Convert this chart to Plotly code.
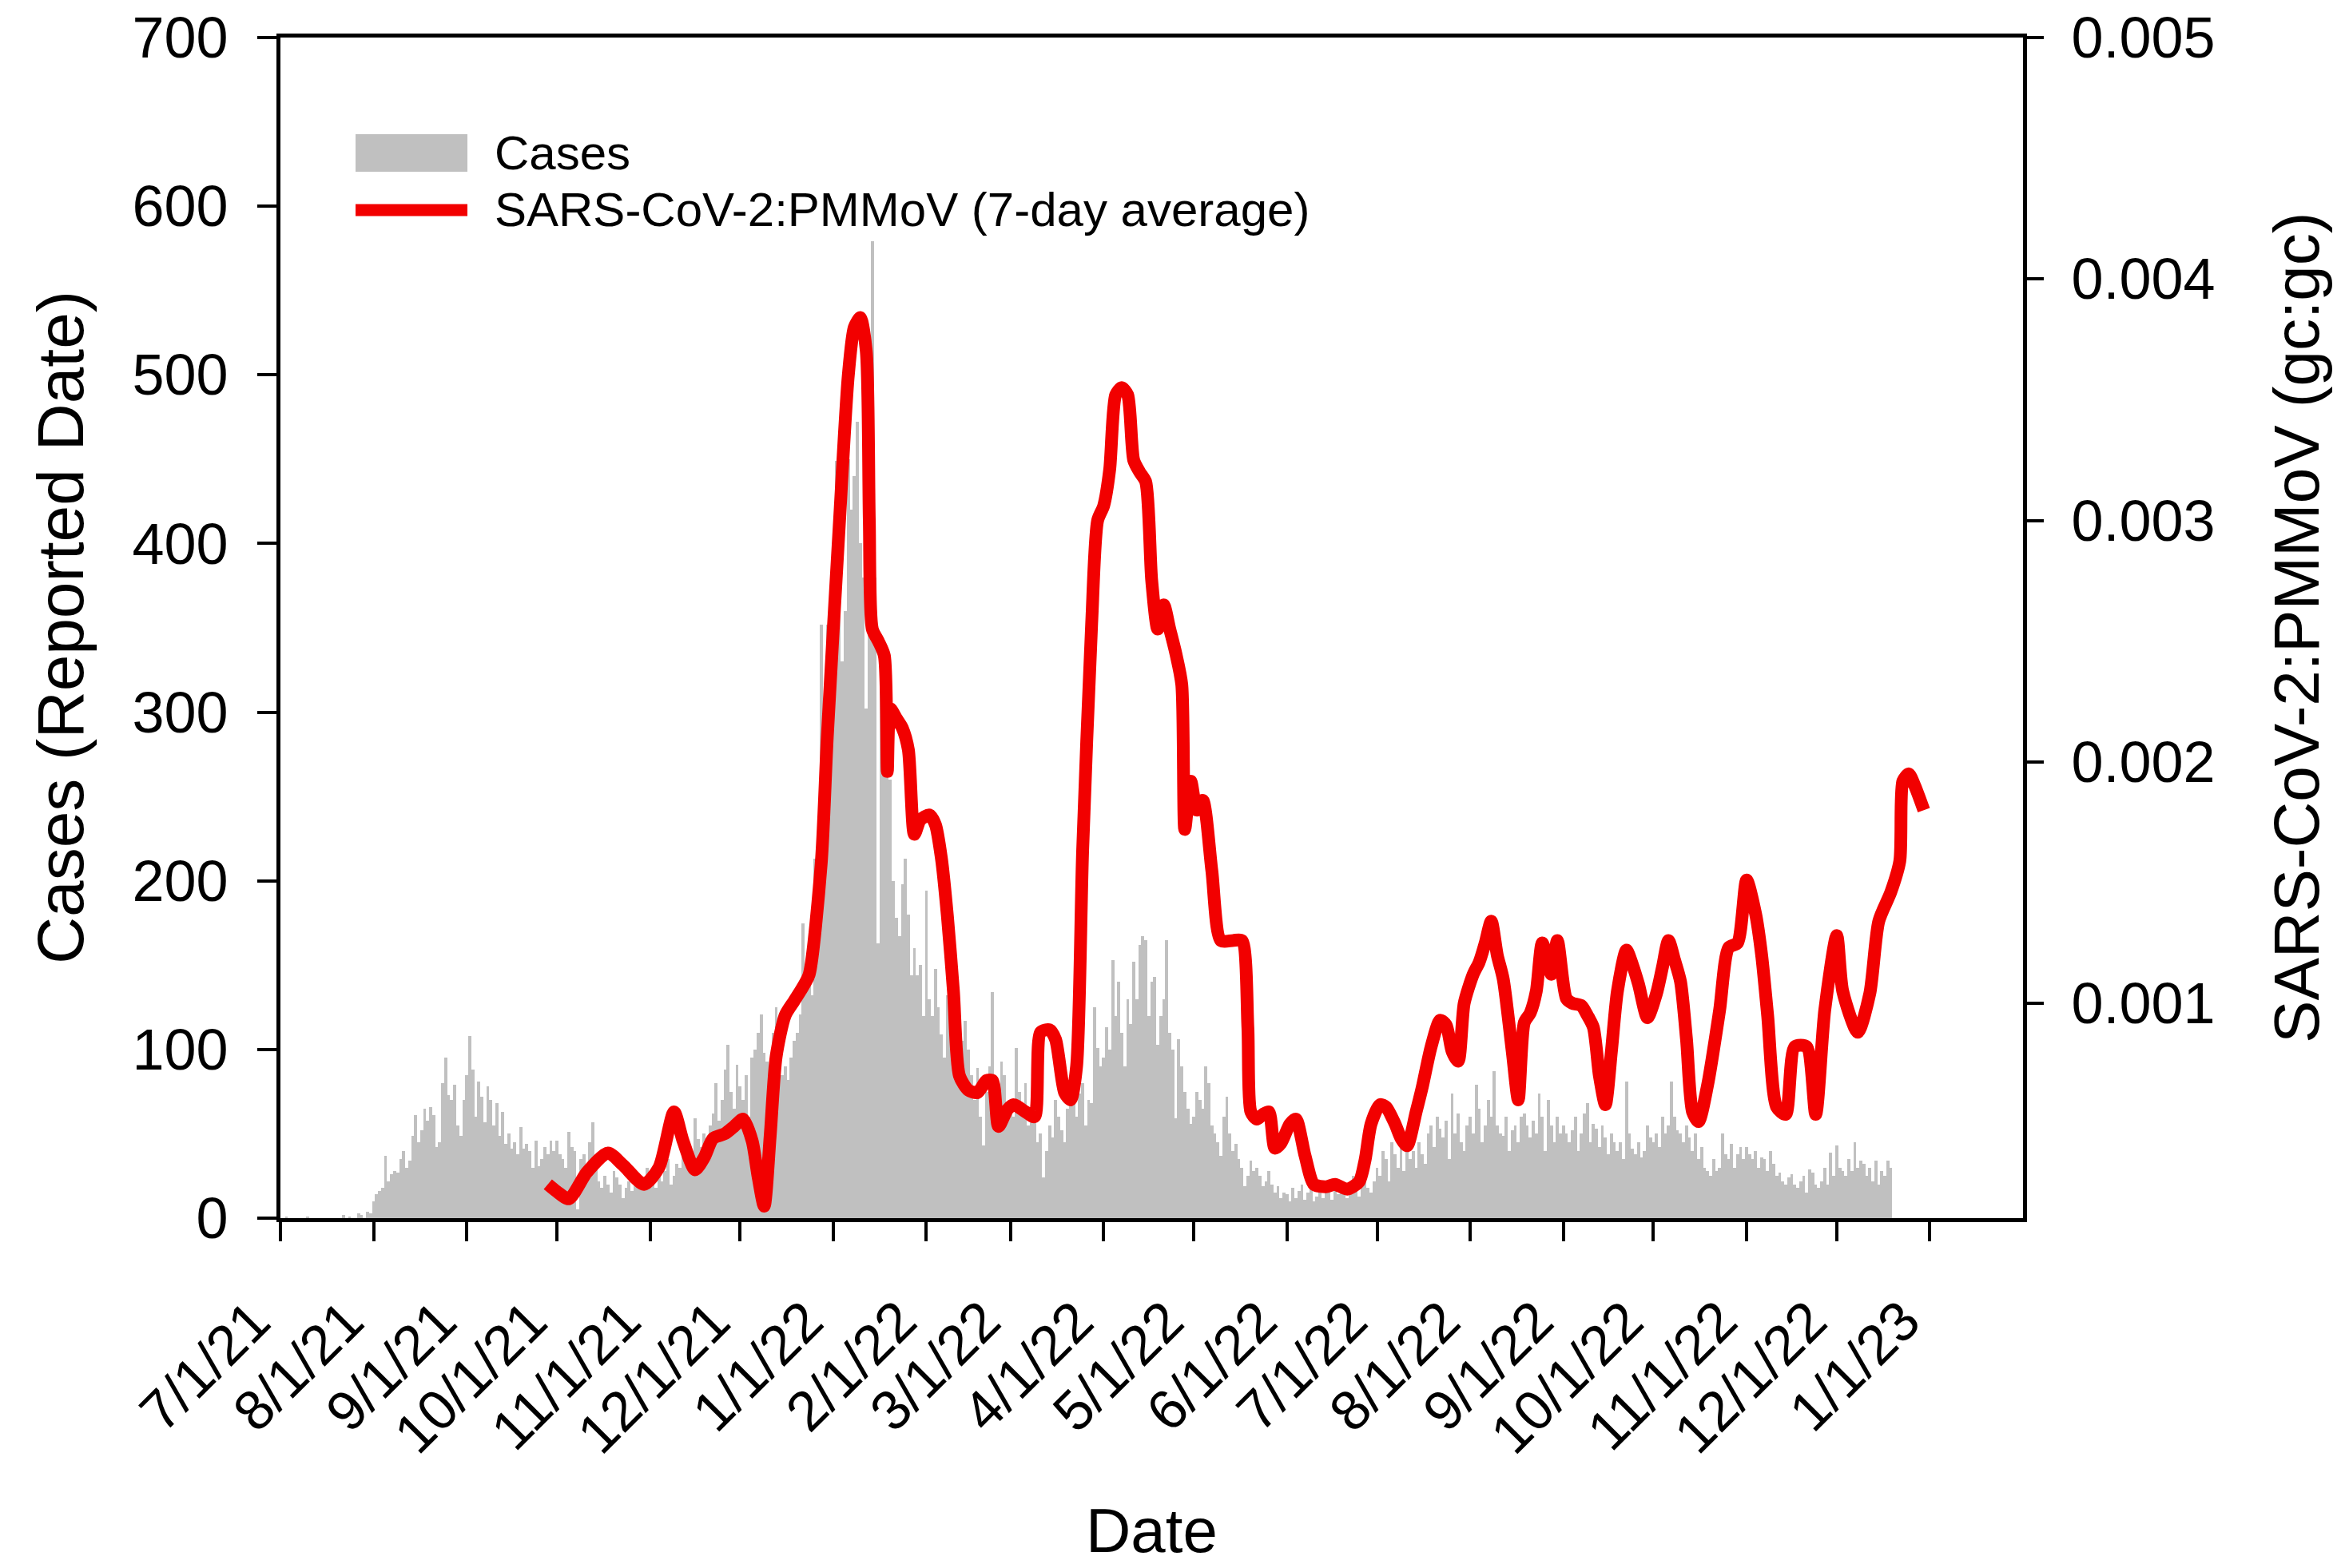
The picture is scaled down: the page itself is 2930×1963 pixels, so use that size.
import pandas as pd
import plotly.graph_objects as go

# ---------------- data ----------------
cases_2021_07 = [0,0,1,0,0,0,0,0,0,1,0,0,0,0,0,0,0,0,0,0,0,2,0,1,0,0,3,2,0,4,3]
cases_2021_08 = [10,14,16,18,37,22,26,28,27,35,40,30,34,49,61,45,52,65,58,66,61,42,45,80,95,73,70,79,55,49,70]
cases_2021_09 = [85,108,88,60,81,72,57,78,70,55,68,49,63,44,50,41,45,38,54,41,44,40,30,46,31,35,42,38,46,40]
cases_2021_10 = [46,38,35,30,51,42,40,5,35,38,30,45,57,30,22,18,25,20,15,28,24,20,12,18,22,16,20,25,18,22,30]
cases_2021_11 = [25,21,18,30,22,28,35,20,25,32,30,38,40,28,35,59,47,42,50,38,55,62,80,58,70,88,103,75,65,91]
cases_2021_12 = [78,70,85,60,95,100,110,121,98,93,88,110,125,100,85,90,82,95,105,110,121,175,150,140,132,213,180,352,300,352,360]
cases_2022_01 = [400,449,418,330,360,450,420,440,472,400,380,302,450,579,380,163,333,300,275,260,200,178,167,198,213,180,144,160,144,150,120]
cases_2022_02 = [194,130,120,148,125,109,95,132,120,101,110,90,105,117,100,85,70,89,60,43,75,90,134,80,70,93,85,65]
cases_2022_03 = [70,60,101,75,65,80,55,60,62,45,50,24,40,55,48,70,60,52,45,65,82,78,60,74,80,55,70,68,125,101,90]
cases_2022_04 = [95,113,100,153,120,140,110,90,130,115,152,130,162,167,165,120,140,143,103,120,130,165,110,100,59,106,90,75,65,56]
cases_2022_05 = [60,75,70,65,90,80,55,50,45,37,60,72,50,40,44,35,30,19,25,34,28,30,25,19,22,28,20,15,19,12,15]
cases_2022_06 = [14,10,18,12,16,20,11,15,19,10,13,17,12,20,15,11,18,14,22,16,12,19,25,17,13,20,24,18,15,22]
cases_2022_07 = [30,25,40,35,22,45,38,30,50,28,45,35,40,30,45,38,32,50,55,42,60,53,48,58,35,74,50,62,45,40,55]
cases_2022_08 = [60,50,79,65,45,55,70,60,87,55,50,49,60,40,52,55,45,60,62,55,48,58,50,74,60,40,70,55,45,60,50]
cases_2022_09 = [55,50,45,52,60,40,50,62,68,45,56,53,42,55,48,38,50,45,40,45,35,81,50,41,38,45,36,40,55,48]
cases_2022_10 = [45,50,42,60,50,55,81,60,52,50,45,55,48,40,50,35,42,30,28,25,35,28,30,50,38,35,44,30,38,42,35]
cases_2022_11 = [42,38,35,40,30,36,35,28,40,32,25,27,22,20,24,26,20,18,22,25,15,29,27,20,18,22,30,20,39,25]
cases_2022_12 = [43,30,28,25,35,28,45,30,34,32,25,30,22,34,20,28,25,34,30]

cases_first_day = "2021-07-01"

ratio_dates = [
    "2021-09-28","2021-10-01","2021-10-05","2021-10-11","2021-10-18","2021-10-23","2021-10-30",
    "2021-11-04","2021-11-09","2021-11-12","2021-11-16","2021-11-19","2021-11-22","2021-11-26","2021-11-29",
    "2021-12-02","2021-12-05","2021-12-07","2021-12-09","2021-12-11","2021-12-13","2021-12-16","2021-12-19",
    "2021-12-22","2021-12-24","2021-12-28","2021-12-30",
    "2022-01-03","2022-01-06","2022-01-08","2022-01-10","2022-01-12","2022-01-13","2022-01-14","2022-01-16",
    "2022-01-18","2022-01-19","2022-01-20","2022-01-22","2022-01-24","2022-01-26","2022-01-28","2022-01-30",
    "2022-02-02","2022-02-04","2022-02-06","2022-02-08","2022-02-10","2022-02-12","2022-02-15","2022-02-18",
    "2022-02-21","2022-02-23","2022-02-25","2022-02-28",
    "2022-03-02","2022-03-06","2022-03-09","2022-03-11","2022-03-14","2022-03-16","2022-03-19","2022-03-21",
    "2022-03-23","2022-03-25","2022-03-28","2022-03-30",
    "2022-04-01","2022-04-03","2022-04-05","2022-04-07","2022-04-09","2022-04-11","2022-04-13","2022-04-15",
    "2022-04-17","2022-04-19","2022-04-21","2022-04-23","2022-04-25","2022-04-27","2022-04-28","2022-04-30",
    "2022-05-02","2022-05-04","2022-05-07","2022-05-10","2022-05-14","2022-05-17","2022-05-19","2022-05-20",
    "2022-05-22","2022-05-24","2022-05-26","2022-05-28","2022-05-30",
    "2022-06-02","2022-06-04","2022-06-07","2022-06-10","2022-06-14","2022-06-17","2022-06-21","2022-06-25",
    "2022-06-27","2022-06-29",
    "2022-07-02","2022-07-04","2022-07-07","2022-07-09","2022-07-11","2022-07-14","2022-07-16","2022-07-19",
    "2022-07-22","2022-07-24","2022-07-26","2022-07-28","2022-07-30",
    "2022-08-02","2022-08-04","2022-08-06","2022-08-08","2022-08-10","2022-08-12","2022-08-15","2022-08-17",
    "2022-08-19","2022-08-21","2022-08-23","2022-08-25","2022-08-28","2022-08-30",
    "2022-09-02","2022-09-04","2022-09-07","2022-09-09","2022-09-11","2022-09-13","2022-09-15","2022-09-17",
    "2022-09-19","2022-09-22","2022-09-24","2022-09-26","2022-09-29",
    "2022-10-02","2022-10-04","2022-10-06","2022-10-08","2022-10-10","2022-10-12","2022-10-14","2022-10-16",
    "2022-10-19","2022-10-23","2022-10-26","2022-10-29",
    "2022-11-01","2022-11-04","2022-11-06","2022-11-08","2022-11-11","2022-11-14","2022-11-17","2022-11-21",
    "2022-11-24","2022-11-27",
    "2022-12-01","2022-12-03","2022-12-08","2022-12-12","2022-12-15","2022-12-19","2022-12-22","2022-12-23",
    "2022-12-25","2022-12-27","2022-12-30",
]
ratio_values = [
    0.00025,0.00022,0.00019,0.00030,0.00038,0.00033,0.00025,
    0.00032,0.00055,0.00043,0.00031,0.00036,0.00044,0.00046,0.00049,
    0.00052,0.00043,0.00028,0.00016,0.00045,0.00078,0.00095,0.00101,
    0.00107,0.00112,0.00158,0.00210,
    0.00298,0.00360,0.00380,0.00384,0.00370,0.00300,0.00255,0.00250,
    0.00244,0.00196,0.00222,0.00218,0.00214,0.00205,0.00170,0.00176,
    0.00178,0.00174,0.00160,0.00136,0.00105,0.00070,0.00064,0.00063,
    0.00068,0.00068,0.00049,0.00056,
    0.00058,0.00055,0.00053,0.00088,0.00089,0.00085,0.00063,0.00060,
    0.00074,0.00163,0.00257,0.00300,
    0.00306,0.00321,0.00352,0.00355,0.00352,0.00325,0.00320,0.00316,
    0.00275,0.00255,0.00265,0.00255,0.00245,0.00232,0.00172,0.00192,
    0.00180,0.00184,0.00155,0.00126,0.00126,0.00126,0.00090,0.00055,
    0.00052,0.00054,0.00055,0.00040,0.00042,
    0.00050,0.00052,0.00037,0.00025,0.00024,0.00025,0.00023,0.00026,
    0.00035,0.00050,
    0.00058,0.00057,0.00050,0.00044,0.00041,0.00055,0.00065,0.00082,
    0.00093,0.00091,0.00080,0.00076,0.00100,
    0.00112,0.00117,0.00125,0.00134,0.00120,0.00110,0.00080,0.00060,
    0.00092,0.00096,0.00105,0.00125,0.00112,0.00126,
    0.00102,0.00100,0.00099,0.00095,0.00090,0.00070,0.00058,0.00080,
    0.00105,0.00122,0.00116,0.00108,0.00094,
    0.00104,0.00115,0.00126,0.00118,0.00109,0.00085,0.00055,0.00051,
    0.00066,0.00097,0.00123,0.00125,
    0.00151,0.00137,0.00120,0.00095,0.00057,0.00054,0.00082,0.00082,
    0.00054,0.00097,
    0.00128,0.00105,0.00088,0.00104,0.00134,0.00146,0.00159,0.00192,
    0.00195,0.00190,0.00180,
]

x_tick_dates = ["2021-07-01","2021-08-01","2021-09-01","2021-10-01","2021-11-01","2021-12-01",
                "2022-01-01","2022-02-01","2022-03-01","2022-04-01","2022-05-01","2022-06-01",
                "2022-07-01","2022-08-01","2022-09-01","2022-10-01","2022-11-01","2022-12-01",
                "2023-01-01"]
x_tick_labels = ["7/1/21","8/1/21","9/1/21","10/1/21","11/1/21","12/1/21",
                 "1/1/22","2/1/22","3/1/22","4/1/22","5/1/22","6/1/22",
                 "7/1/22","8/1/22","9/1/22","10/1/22","11/1/22","12/1/22",
                 "1/1/23"]
left_ticks = [0, 100, 200, 300, 400, 500, 600, 700]
right_ticks = [0.001, 0.002, 0.003, 0.004, 0.005]
right_tick_labels = ["0.001", "0.002", "0.003", "0.004", "0.005"]

# ---------------- build ----------------
cases = (cases_2021_07 + cases_2021_08 + cases_2021_09 + cases_2021_10 + cases_2021_11 +
         cases_2021_12 + cases_2022_01 + cases_2022_02 + cases_2022_03 + cases_2022_04 +
         cases_2022_05 + cases_2022_06 + cases_2022_07 + cases_2022_08 + cases_2022_09 +
         cases_2022_10 + cases_2022_11 + cases_2022_12)
case_dates = pd.date_range(cases_first_day, periods=len(cases), freq="D")

FONT = "Liberation Sans, Arial, Helvetica, sans-serif"
GRAY = "#c0c0c0"
RED = "#f20000"

fig = go.Figure()
fig.add_trace(go.Bar(x=case_dates, y=cases, marker=dict(color=GRAY, line=dict(width=0)),
                     name="Cases", showlegend=False, yaxis="y"))
fig.add_trace(go.Scatter(x=ratio_dates, y=ratio_values, mode="lines",
                         line=dict(color=RED, width=16, shape="spline", smoothing=0.7),
                         name="SARS-CoV-2:PMMoV (7-day average)", showlegend=False, yaxis="y2"))

def axis_style(size):
    return dict(showline=True, linecolor="black", linewidth=5, ticks="outside",
                tickcolor="black", tickwidth=4, showgrid=False, zeroline=False,
                automargin=False,
                tickfont=dict(family=FONT, size=size, color="black"))

fig.update_layout(
    template="none",
    width=2930, height=1963,
    margin=dict(l=351, r=398, t=47, b=438, autoexpand=False),
    paper_bgcolor="white", plot_bgcolor="white",
    bargap=0,
    showlegend=False,
    font=dict(family=FONT, color="black"),
    xaxis=dict(**axis_style(70),
               type="date", range=["2021-07-01", "2023-02-01"],
               tickvals=x_tick_dates, showticklabels=False,
               ticklen=24, mirror=True),
    yaxis=dict(**axis_style(72), range=[0, 700], tickvals=left_ticks, ticklen=24,
               ticklabelstandoff=22),
    yaxis2=dict(**axis_style(72), overlaying="y", side="right", range=[0.00011, 0.005],
                tickvals=right_ticks, ticktext=right_tick_labels, ticklen=21,
                ticklabelstandoff=20),
)

# rotated date tick labels (ending just below each tick)
for d, lab in zip(x_tick_dates, x_tick_labels):
    fig.add_annotation(text=lab, x=d, xref="x", yref="paper", y=-0.058,
                       xanchor="right", yanchor="top", xshift=5,
                       textangle=-45, showarrow=False,
                       font=dict(family=FONT, size=70, color="black"))

# axis titles
fig.add_annotation(text="Cases (Reported Date)", xref="paper", yref="paper",
                   x=-0.1265, y=0.5, xanchor="center", yanchor="middle",
                   textangle=-90, showarrow=False,
                   font=dict(family=FONT, size=82, color="black"))
fig.add_annotation(text="SARS-CoV-2:PMMoV (gc:gc)", xref="paper", yref="paper",
                   x=1.1568, y=0.5, xanchor="center", yanchor="middle",
                   textangle=-90, showarrow=False,
                   font=dict(family=FONT, size=80, color="black"))
fig.add_annotation(text="Date", xref="paper", yref="paper",
                   x=0.5, y=-0.2955, xanchor="center", yanchor="bottom", showarrow=False,
                   font=dict(family=FONT, size=78, color="black"))

# legend (drawn in paper coords)
fig.add_shape(type="rect", xref="paper", yref="paper", x0=0.0431, x1=0.1073,
              y0=0.8863, y1=0.9181, fillcolor=GRAY, line=dict(width=0))
fig.add_shape(type="line", xref="paper", yref="paper", x0=0.0431, x1=0.1073,
              y0=0.8539, y1=0.8539, line=dict(color=RED, width=15))
fig.add_annotation(text="Cases", xref="paper", yref="paper", x=0.122, y=0.9019,
                   xanchor="left", yanchor="middle", showarrow=False,
                   font=dict(family=FONT, size=60, color="black"))
fig.add_annotation(text="SARS-CoV-2:PMMoV (7-day average)", xref="paper", yref="paper",
                   x=0.122, y=0.8539, xanchor="left", yanchor="middle", showarrow=False,
                   font=dict(family=FONT, size=60, color="black"))

fig.write_html("out.html", config={"displayModeBar": False},
               post_script="document.body.style.margin='0';")
